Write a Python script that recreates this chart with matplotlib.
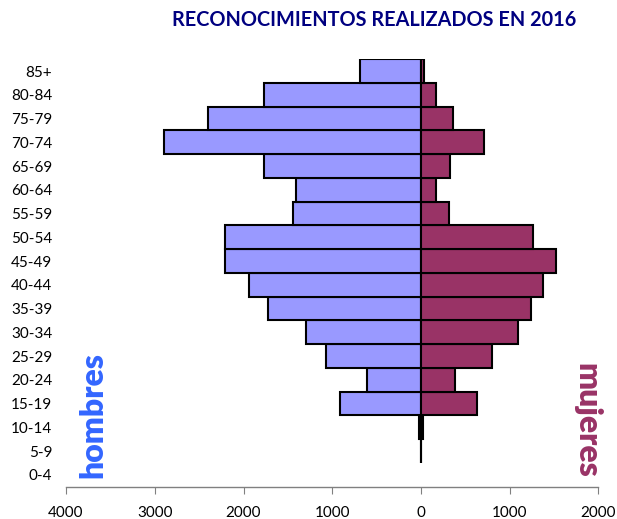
import matplotlib
matplotlib.use("Agg")
import matplotlib.pyplot as plt
from matplotlib.ticker import FuncFormatter

age_groups = ["0-4", "5-9", "10-14", "15-19", "20-24", "25-29", "30-34", "35-39",
              "40-44", "45-49", "50-54", "55-59", "60-64", "65-69", "70-74",
              "75-79", "80-84", "85+"]
hombres = [0, 4, 20, 915, 607, 1065, 1300, 1725, 1935, 2210, 2210, 1440, 1406,
           1772, 2895, 2396, 1770, 690]
mujeres = [0, 3, 22, 633, 386, 800, 1090, 1244, 1378, 1526, 1260, 315, 172,
           322, 705, 356, 169, 30]
x_ticks = [-4000, -3000, -2000, -1000, 0, 1000, 2000]

plt.rcParams['font.family'] = ['Lato', 'DejaVu Sans']

fig = plt.figure(figsize=(6.17, 5.19), dpi=100)
ax = fig.add_axes([0.107, 0.0622, 0.863, 0.8238])

y = list(range(len(age_groups)))
lw_h = [1.5 if v > 0 else 0 for v in hombres]
lw_m = [1.5 if v > 0 else 0 for v in mujeres]
ax.barh(y, [-v for v in hombres], height=1.0, color="#9999FF",
        edgecolor="black", linewidth=lw_h)
ax.barh(y, mujeres, height=1.0, color="#993366",
        edgecolor="black", linewidth=lw_m)

ax.set_xlim(-4000, 2000)
ax.set_ylim(-0.5, len(age_groups) - 0.5)
ax.set_xticks(x_ticks)
ax.xaxis.set_major_formatter(FuncFormatter(lambda v, p: f"{abs(int(v))}"))
ax.set_yticks(y)
ax.set_yticklabels(age_groups)

for s in ["top", "right", "left"]:
    ax.spines[s].set_visible(False)
ax.spines["bottom"].set_color("#808080")
ax.spines["bottom"].set_linewidth(1.0)
ax.tick_params(axis="y", length=0, pad=10, labelsize=11)
ax.tick_params(axis="x", length=5, color="#808080", direction="out", pad=9,
               labelsize=11)

fig.text(0.606, 0.962, "RECONOCIMIENTOS REALIZADOS EN 2016", ha="center",
         va="center", color="#000080", fontsize=14.3, fontweight="bold")

ax.text(0.051, 0.02, "hombres", transform=ax.transAxes, rotation=90,
        ha="center", va="bottom", color="#3366FF", fontsize=23,
        fontweight="heavy")
ax.text(0.978, 0.02, "mujeres", transform=ax.transAxes, rotation=-90,
        ha="center", va="bottom", color="#993366", fontsize=23,
        fontweight="heavy")

fig.savefig("out.png", dpi=100)
